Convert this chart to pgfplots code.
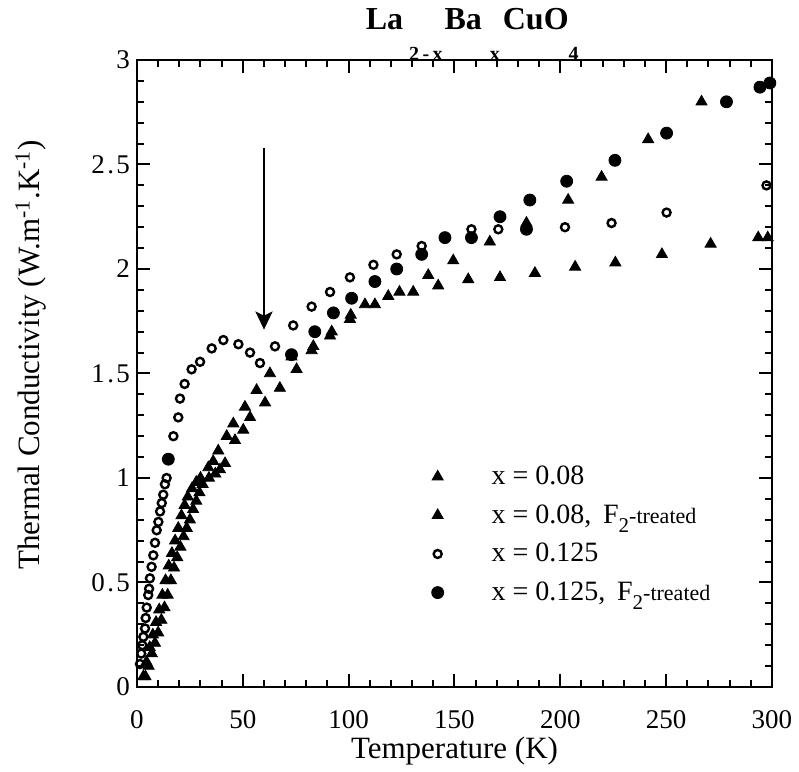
\documentclass[border=0pt]{standalone}
\usepackage{fontspec}
\setmainfont{Liberation Serif}
\usepackage{pgfplots}
\pgfplotsset{compat=1.18}
\usetikzlibrary{arrows.meta}

\pgfplotstableread{
T k
4 0.05
5.5 0.10
7 0.16
8.5 0.21
10 0.26
11.5 0.32
13 0.38
14.5 0.44
16 0.51
17.5 0.57
19 0.62
20.5 0.67
22 0.72
23.5 0.76
25 0.80
26.5 0.85
28 0.89
29.5 0.93
31 0.97
34 1.00
37 1.02
39.2 1.04
41.6 1.07
46.3 1.18
50.2 1.23
53.4 1.29
60.5 1.36
67.5 1.43
75.4 1.52
82.5 1.61
91.2 1.68
100.6 1.76
107.7 1.83
112.4 1.83
118.7 1.87
124 1.89
130.5 1.89
142.3 1.92
156.5 1.95
171.5 1.96
188 1.98
207 2.01
226 2.03
248 2.07
271 2.12
293.5 2.15
298 2.15
}\tabA

\pgfplotstableread{
T k
3 0.05
4.5 0.12
6 0.19
7.5 0.25
9 0.31
10.5 0.37
12 0.44
13.5 0.51
15 0.58
16.5 0.64
18 0.70
19.5 0.76
21 0.82
22.5 0.87
24 0.91
26 0.95
28 0.98
30 1.00
33.7 1.05
36 1.08
38.4 1.13
42.4 1.20
45.5 1.26
51 1.34
56.5 1.42
62.8 1.50
73 1.58
83.3 1.63
92 1.70
101 1.78
137.6 1.97
149.4 2.04
166.7 2.13
184 2.22
203.7 2.33
219.5 2.44
241.5 2.62
266.7 2.80
}\tabB

\pgfplotstableread{
T k
1.4 0.11
2.0 0.16
2.5 0.20
3.0 0.24
3.8 0.28
4.1 0.33
4.6 0.38
5.3 0.44
5.7 0.47
6.1 0.52
6.9 0.575
7.7 0.63
8.5 0.69
9.3 0.75
10.1 0.79
10.9 0.84
11.7 0.88
12.4 0.92
13.2 0.97
14.0 1.00
17.2 1.20
19.5 1.29
20.3 1.38
22.5 1.45
25.8 1.52
29.8 1.556
35.3 1.62
40.8 1.66
47.9 1.64
53.4 1.60
58.1 1.55
65.2 1.63
73.8 1.73
82.5 1.82
91.2 1.89
100.6 1.96
111.7 2.02
122.7 2.07
134.5 2.11
158 2.19
170.7 2.19
202.2 2.20
224.2 2.22
250.2 2.27
297.4 2.40
}\tabC

\pgfplotstableread{
T k
14.8 1.09
73 1.59
84 1.70
92.8 1.79
101.4 1.86
112.4 1.94
122.7 2.00
134.5 2.07
145.5 2.15
158 2.15
171.5 2.25
184 2.19
185.6 2.33
203 2.42
225.8 2.52
250.2 2.65
278.5 2.80
294.3 2.87
299 2.89
}\tabD

\newcommand{\ftreated}{F\raisebox{-4.5pt}{\fontsize{10.5}{10}\selectfont 2}{\fontsize{11}{10}\selectfont -treated}}
\newcommand{\tsub}[1]{\raisebox{-15.5pt}{\fontsize{10}{10}\selectfont #1}}

\begin{document}
\begin{tikzpicture}
\useasboundingbox (-68.5pt,-42.5pt) rectangle (331pt,343.5pt);
\begin{axis}[
  at={(0,0)}, anchor=south west,
  scale only axis,
  width=317.5pt, height=313.5pt,
  xmin=0, xmax=300, ymin=0, ymax=3,
  xtick={0,50,...,300},
  ytick={0,0.5,...,3},
  yticklabels={0,0\kern1.2pt.\kern1.2pt5,1,1\kern1.2pt.\kern1.2pt5,2,2\kern1.2pt.\kern1.2pt5,3},
  minor tick num=4,
  tick align=inside,
  major tick length=6.5pt,
  minor tick length=3.5pt,
  every tick/.style={black, line width=1pt},
  axis line style={line width=1.2pt},
  clip=false,
  /pgf/number format/assume math mode=true,
  tick label style={font=\fontsize{13.5}{15}\selectfont},
  xticklabel style={yshift=-8pt},
  label style={font=\fontsize{15.5}{17}\selectfont},
  xlabel={Temperature (K)},
  xlabel style={at={(axis description cs:0.5,-0.114)}, anchor=base},
  ylabel={Thermal Conductivity (W.m\textsuperscript{-1}.K\textsuperscript{-1})},
  ylabel style={at={(axis description cs:-0.167,0.53)}, anchor=center},
  legend style={at={(axis description cs:0.454,0.366)}, anchor=north west,
    draw=none, fill=none, font=\fontsize{14}{15}\selectfont, row sep=4.5pt,
    legend cell align=left},
  legend image code/.code={\draw[mark repeat=2,mark phase=2] plot coordinates {(0cm,0cm) (0.3cm,0cm) (0.6cm,0cm)};},
  /tikz/every odd column/.append style={column sep=22pt},
]
\addplot[only marks, mark=triangle*, mark size=3.2pt, black] table[x=T,y=k] {\tabA};
\addlegendentry{x = 0.08}
\addplot[only marks, mark=triangle*, mark size=3.2pt, black] table[x=T,y=k] {\tabB};
\addlegendentry{x = 0.08,\, \ftreated}
\addplot[only marks, mark=o, mark size=2pt, black, mark options={line width=1.2pt}] table[x=T,y=k] {\tabC};
\addlegendentry{x = 0.125}
\addplot[only marks, mark=*, mark size=3pt, black] table[x=T,y=k] {\tabD};
\addlegendentry{x = 0.125,\, \ftreated}
\draw[line width=1.2pt, -{Stealth[length=9pt,width=8.5pt,inset=2pt]}] (axis cs:60,2.58) -- (axis cs:60,1.71);
\node[anchor=base, font=\bfseries\fontsize{16}{18}\selectfont] at (axis description cs:0.528,1.049)
  {La\kern3pt\tsub{2\,-\,x}\kern1pt Ba\kern4pt\tsub{x}\kern1.5pt CuO\tsub{4}};
\end{axis}
\end{tikzpicture}
\end{document}
